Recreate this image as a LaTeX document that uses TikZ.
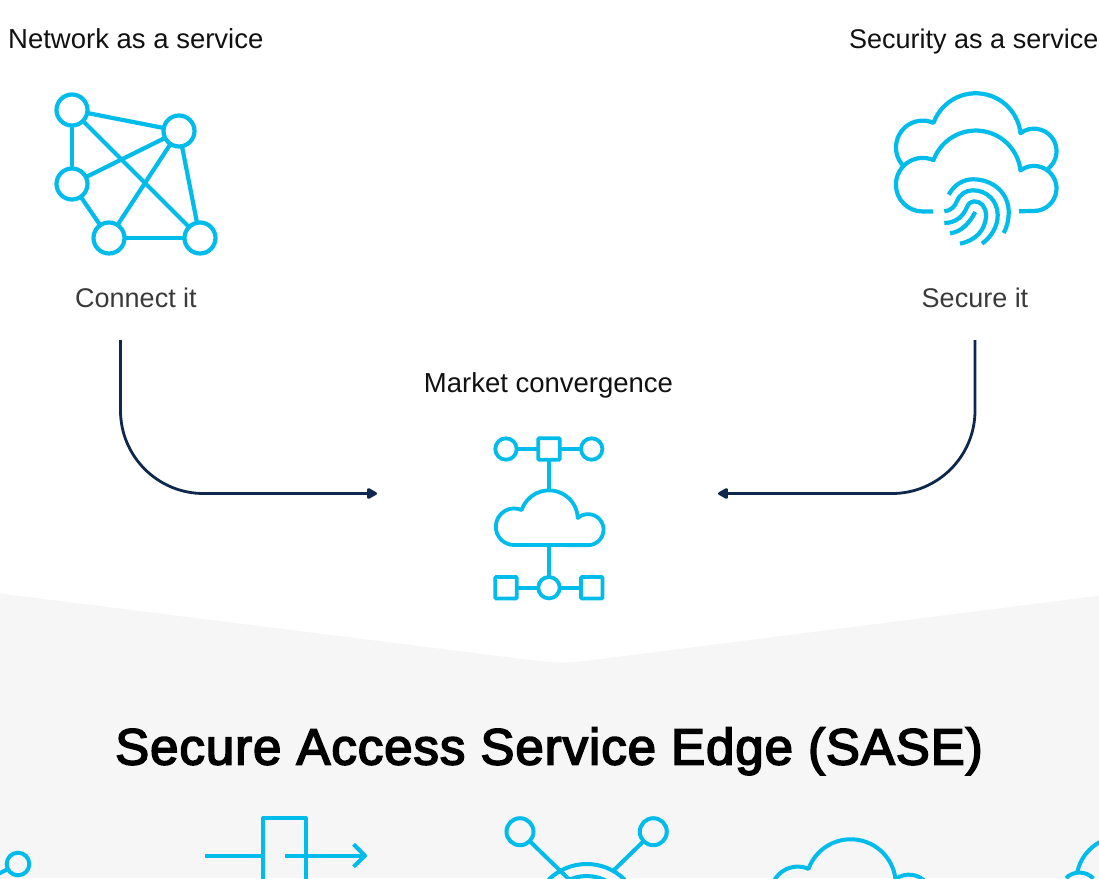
\documentclass[tikz,border=0pt]{standalone}
\usepackage{fontspec}
\usetikzlibrary{arrows.meta}
\setmainfont{Liberation Sans}
\newfontfamily\titlefont[FakeBold=3.2,LetterSpace=1.8]{Liberation Sans}
\definecolor{ciscoblue}{HTML}{00BCEB}
\definecolor{navyline}{HTML}{0D274D}
\definecolor{bandgray}{HTML}{F6F6F6}
\definecolor{inktext}{HTML}{111111}
\definecolor{softtext}{HTML}{3A3A3A}
\newcommand{\cloudupper}{%
  arc[start angle=90,end angle=293.7,radius=26.8]
  arc[start angle=200,end angle=353.5,radius=45]
  arc[start angle=233,end angle=450,radius=22.5]}
\tikzset{
  icon/.style={draw=ciscoblue,line width=4.2pt,line join=round},
  thin icon/.style={draw=ciscoblue,line width=3.8pt,line join=round},
  meshdot/.style={circle,draw=ciscoblue,line width=4.2pt,fill=white,inner sep=0pt,outer sep=0pt,minimum size=31pt},
  smalldot/.style={circle,draw=ciscoblue,line width=3.8pt,fill=white,inner sep=0pt,outer sep=0pt,minimum size=21.4pt},
  smallsquare/.style={rectangle,rounded corners=1pt,draw=ciscoblue,line width=3.8pt,fill=white,inner sep=0pt,outer sep=0pt,minimum size=21.4pt},
  bandicon/.style={draw=ciscoblue,line width=4pt,line join=round},
  banddot/.style={circle,draw=ciscoblue,line width=4pt,inner sep=0pt,outer sep=0pt,minimum size=24pt},
  flow/.style={draw=navyline,line width=2.8pt,rounded corners=83pt,-{Triangle[length=11.5pt,width=12pt,round=false]}},
  caption/.style={anchor=base,inner sep=0pt,font=\fontsize{27.5}{30}\selectfont,text=inktext},
  softcaption/.style={anchor=base,inner sep=0pt,font=\fontsize{27}{30}\selectfont,text=softtext},
  sidecaption/.style={anchor=base west,inner sep=0pt,font=\fontsize{27.5}{30}\selectfont,text=inktext},
  heading/.style={anchor=base,inner sep=0pt,font=\titlefont\fontsize{51}{56}\selectfont,text=black}
}
\begin{document}
\begin{tikzpicture}[x=1pt,y=-1pt]
\useasboundingbox (0,0) rectangle (1099,878);
\clip (0,0) rectangle (1099,878);
\fill[white] (0,0) rectangle (1099,878);
% gray band
\fill[bandgray] (0,593.5) -- (530,660) .. controls (548,662.5) and (564,663.5) .. (585,661) -- (1099,595.7) -- (1099,878) -- (0,878) -- cycle;
% captions
\node[sidecaption] (nettitle) at (8,48) {Network as a service};
\node[sidecaption,font=\fontsize{27}{30}\selectfont] (sectitle) at (849,48) {Security as a service};
\node[softcaption] (connect) at (136,307) {Connect it};
\node[softcaption] (secure) at (975,307) {Secure it};
\node[caption] (market) at (548.5,392) {Market convergence};
\node[heading] (sase) at (549,764.5) {Secure Access Service Edge (SASE)};
% mesh icon
\node[meshdot] (ma) at (72,110) {};
\node[meshdot] (mb) at (179,131) {};
\node[meshdot] (mc) at (72,184) {};
\node[meshdot] (md) at (109,238) {};
\node[meshdot] (me) at (200,238) {};
\foreach \p/\q in {ma/mb,ma/mc,ma/me,mb/mc,mb/md,mb/me,mc/md,md/me}
  \draw[icon] (\p) -- (\q);
% security clouds
\draw[icon] (902.5,165) arc[start angle=139,end angle=293.7,radius=26.8]
  arc[start angle=200,end angle=353.5,radius=45]
  arc[start angle=233,end angle=413,radius=22.5];
\draw[icon] (933,211.5) -- (922.7,211.5) \cloudupper -- (1019,211.3);
% fingerprint
\draw[icon] (948.7,194.7) .. controls (954,185) and (963,179.3) .. (973,179.3) .. controls (993,179.3) and (1008.7,193) .. (1008.7,212) .. controls (1008.7,220) and (1007,227) .. (1003.7,233);
\draw[icon] (944.3,211.3) .. controls (951,211) and (955,206) .. (957,201) .. controls (960,194) and (966,190.3) .. (973,190.3) .. controls (987,190.3) and (997.7,201) .. (997.7,215) .. controls (997.7,227) and (991,237) .. (982,243.7);
\draw[icon] (944.3,223) .. controls (955,223) and (963,217) .. (967,207) .. controls (969,203) and (971,201.3) .. (974,201.3) .. controls (981,201.3) and (986,207) .. (986,215) .. controls (986,231) and (974,241) .. (960,243.7);
\draw[icon] (950,233.3) .. controls (962,232) and (970,222) .. (975.3,212);
% flow arrows
\coordinate (flowLa) at (120.5,340);
\coordinate (flowLb) at (377,493.5);
\coordinate (flowRa) at (975,340);
\coordinate (flowRb) at (718,493.5);
\draw[flow] (flowLa) |- (flowLb);
\draw[flow] (flowRa) |- (flowRb);
% convergence icon
\node[smalldot] (ct1) at (506,449) {};
\node[smallsquare] (ct2) at (549,449) {};
\node[smalldot] (ct3) at (591.7,449) {};
\node[smallsquare] (cb1) at (506,587.7) {};
\node[smalldot] (cb2) at (549,587.7) {};
\node[smallsquare] (cb3) at (591.7,587.7) {};
\coordinate (cloudtop) at (549,490.5);
\coordinate (cloudbot) at (549,545);
\draw[thin icon] (514.1,545) arc[start angle=90,end angle=294.4,radius=18.3]
  arc[start angle=198.4,end angle=357.8,radius=28.8]
  arc[start angle=228.5,end angle=450,radius=15.5] -- cycle;
\draw[thin icon] (ct1) -- (ct2);
\draw[thin icon] (ct2) -- (ct3);
\draw[thin icon] (ct2) -- (cloudtop);
\draw[thin icon] (cb1) -- (cb2);
\draw[thin icon] (cb2) -- (cb3);
\draw[thin icon] (cloudbot) -- (cb2);
% cropped icons on the band
\node[banddot,minimum size=22.6pt] (bd1) at (18,864) {};
\coordinate (bd1tail) at (-4,875);
\draw[bandicon] (bd1) -- (bd1tail);
% gate
\draw[bandicon] (263,885) -- (263,818) -- (305.5,818) -- (305.5,885);
\draw[bandicon] (204.5,855.7) -- (263,855.7);
\draw[bandicon] (284.5,855.7) -- (365,855.7);
\draw[bandicon] (353.6,844.3) -- (365,855.7) -- (353.6,866.7);
% hub
\node[banddot,minimum size=27pt] (hubL) at (520,831.7) {};
\node[banddot,minimum size=27pt] (hubR) at (653.3,831.7) {};
\coordinate (hubLend) at (578,888);
\coordinate (hubRend) at (613.3,870.7);
\draw[bandicon] (hubL) -- (hubLend);
\draw[bandicon] (hubR) -- (hubRend);
\draw[bandicon] (586.7,918) ++(225:54) arc[start angle=225,end angle=315,radius=54];
\draw[bandicon] (586.7,918) ++(240:42) arc[start angle=240,end angle=300,radius=42];
% cloud
\begin{scope}[shift={(-125,708.7)}]
\draw[bandicon] (922.7,211.5) \cloudupper -- cycle;
\end{scope}
% right cloud fragment
\draw[bandicon] (1066,878) arc[start angle=226,end angle=316,radius=19.4];
\draw[bandicon] (1077,873.5) arc[start angle=190.4,end angle=260,radius=45];
\end{tikzpicture}
\end{document}
